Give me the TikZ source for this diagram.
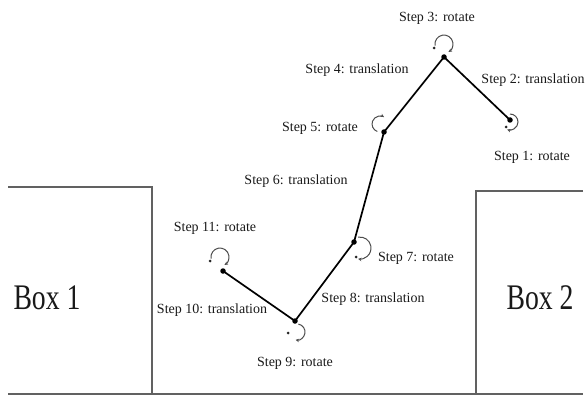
\documentclass[tikz,border=0pt]{standalone}
\usepackage{fontspec}
\setmainfont{Liberation Serif}
\usepackage{graphicx}
\usetikzlibrary{arrows.meta}
\begin{document}
\begin{tikzpicture}[x=1pt,y=-1pt,
  wall/.style={draw=black!62, line width=2.6pt},
  arm/.style={draw=black, line width=1.7pt},
  joint/.style={circle, fill=black, inner sep=0pt, minimum size=5.5pt},
  pivot/.style={circle, fill=black!85, inner sep=0pt, minimum size=3pt},
  rotarc/.style={draw=black!70, line width=1pt, -{Stealth[length=3.5pt,width=3.5pt]}},
  lbl/.style={font=\fontsize{14}{15}\selectfont, text=black!90, inner sep=1pt},
  boxlbl/.style={font=\fontsize{36}{38}\selectfont, text=black!90, inner sep=1pt}]
\useasboundingbox (0,0) rectangle (585,406);
% walls
\coordinate (l0) at (8,187);
\coordinate (l1) at (152,187);
\coordinate (l2) at (152,394);
\coordinate (g0) at (8,394);
\coordinate (g1) at (583,394);
\coordinate (r0) at (583,191);
\coordinate (r1) at (476,191);
\coordinate (r2) at (476,394);
\draw[wall] (l0) -- (l1) -- (l2);
\draw[wall] (g0) -- (g1);
\draw[wall] (r0) -- (r1) -- (r2);
\node[boxlbl] (box1) at (47,298) {\scalebox{0.77}[1]{Box 1}};
\node[boxlbl] (box2) at (540,298) {\scalebox{0.77}[1]{Box 2}};
% joints
\node[joint] (j1) at (510,120) {};
\node[joint] (j3) at (444,57) {};
\node[joint] (j5) at (384,132) {};
\node[joint] (j7) at (354,242) {};
\node[joint] (j9) at (295,321) {};
\node[joint] (j11) at (223,271) {};
\draw[arm] (j1.center) -- (j3.center) -- (j5.center) -- (j7.center) -- (j9.center) -- (j11.center);
% rotation arrows
\node[pivot] (p1) at (506,127) {};
\draw[rotarc] (510,114) arc[start angle=-90, end angle=110, radius=8];
\node[pivot] (p3) at (434,48) {};
\draw[rotarc] (435.1,45.6) arc[start angle=170, end angle=420, radius=9];
\draw[rotarc] (377.3,131.5) arc[start angle=-250, end angle=-60, radius=8];
\node[pivot] (p7) at (356,257) {};
\draw[rotarc] (358.1,237.2) arc[start angle=-100, end angle=100, radius=11];
\node[pivot] (p9) at (288,333) {};
\draw[rotarc] (298.4,324.1) arc[start angle=-80, end angle=100, radius=8];
\node[pivot] (p11) at (210,261) {};
\draw[rotarc] (211.1,258.6) arc[start angle=170, end angle=420, radius=9];
% labels
\node[lbl] (s1) at (532,157) {Step 1: rotate};
\node[lbl] (s2) at (533,80) {Step 2: translation};
\node[lbl] (s3) at (437,18) {Step 3: rotate};
\node[lbl] (s4) at (357,70) {Step 4: translation};
\node[lbl] (s5) at (320,128) {Step 5: rotate};
\node[lbl] (s6) at (296,181) {Step 6: translation};
\node[lbl] (s7) at (416,258) {Step 7: rotate};
\node[lbl] (s8) at (373,299) {Step 8: translation};
\node[lbl] (s9) at (295,363) {Step 9: rotate};
\node[lbl] (s10) at (212,310) {Step 10: translation};
\node[lbl] (s11) at (215,228) {Step 11: rotate};
\end{tikzpicture}
\end{document}
